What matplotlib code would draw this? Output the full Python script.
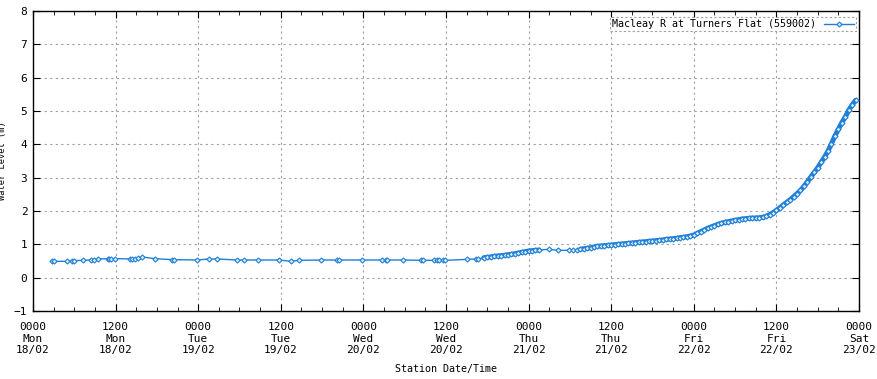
import numpy as np
import matplotlib
matplotlib.use("Agg")
import matplotlib.pyplot as plt
from matplotlib.ticker import MultipleLocator

# Horas desde lunes 18/02 00:00 y nivel del agua (m)
horas_dispersas = [2.7, 3.05, 4.9, 5.6, 5.9, 7.3, 8.4, 8.8, 9.4, 10.9, 11.1, 11.3, 11.9,
                   14.1, 14.4, 14.8, 15.2, 15.9, 17.7, 20.2, 20.5, 23.8, 25.5, 26.8,
                   29.7, 30.6, 32.7, 35.8, 37.5, 38.6, 41.8, 44.1, 44.5, 47.8, 50.7,
                   51.3, 51.5, 53.8, 56.3, 56.6, 58.3, 58.7, 59.0, 59.5, 59.9, 63.0,
                   64.3, 64.7]
nivel_disperso = [0.49, 0.49, 0.49, 0.50, 0.51, 0.52, 0.53, 0.54, 0.56, 0.57, 0.57, 0.57, 0.57,
                  0.56, 0.56, 0.56, 0.58, 0.62, 0.57, 0.54, 0.54, 0.53, 0.56, 0.56,
                  0.53, 0.53, 0.53, 0.53, 0.49, 0.52, 0.53, 0.53, 0.53, 0.53, 0.53,
                  0.53, 0.53, 0.53, 0.52, 0.52, 0.52, 0.52, 0.52, 0.52, 0.52, 0.55,
                  0.56, 0.56]

# primer tramo denso (jueves madrugada)
horas_subida1 = [65.5, 66.0, 66.5, 67.0, 67.5, 68.0, 68.5, 69.0, 69.5, 70.0, 70.5, 71.0,
                 71.5, 72.0, 72.5, 73.0, 73.5]
nivel_subida1 = [0.60, 0.61, 0.62, 0.64, 0.65, 0.66, 0.67, 0.69, 0.70, 0.72, 0.74, 0.76,
                 0.78, 0.80, 0.81, 0.82, 0.83]

horas_pausa = [74.9, 76.3, 77.9, 78.5, 79.0]
nivel_pausa = [0.85, 0.82, 0.82, 0.83, 0.84]

# segundo tramo denso (hasta el sabado)
horas_subida2 = [79.5, 80.0, 80.5, 81.0, 81.5, 82.0, 82.5, 83.0, 83.5, 84.0, 84.5, 85.0,
                 85.5, 86.0, 86.5, 87.0, 87.5, 88.0, 88.5, 89.0, 89.5, 90.0, 90.5, 91.0,
                 91.5, 92.0, 92.5, 93.0, 93.5, 94.0, 94.5, 95.0, 95.5, 96.0, 96.5, 97.0,
                 97.5, 98.0, 98.5, 99.0, 99.5, 100.0, 100.5, 101.0, 101.5, 102.0, 102.5,
                 103.0, 103.5, 104.0, 104.5, 105.0, 105.5, 106.0, 106.5, 107.0, 107.5,
                 108.0, 108.5, 109.0, 109.5, 110.0, 110.5, 111.0, 111.5, 112.0, 112.5,
                 113.0, 113.5, 114.0, 114.5, 115.0, 115.5, 116.0, 116.5, 117.0, 117.5,
                 118.0, 118.5, 119.0, 119.5]
nivel_subida2 = [0.85, 0.87, 0.88, 0.90, 0.92, 0.94, 0.95, 0.96, 0.97, 0.98, 0.99, 1.00,
                 1.01, 1.02, 1.03, 1.04, 1.05, 1.06, 1.07, 1.08, 1.09, 1.10, 1.11, 1.12,
                 1.13, 1.15, 1.16, 1.17, 1.18, 1.20, 1.21, 1.23, 1.25, 1.28, 1.33, 1.38,
                 1.43, 1.48, 1.52, 1.56, 1.60, 1.63, 1.66, 1.68, 1.70, 1.72, 1.74,
                 1.76, 1.77, 1.78, 1.79, 1.79, 1.80, 1.81, 1.84, 1.89, 1.95,
                 2.02, 2.10, 2.18, 2.26, 2.34, 2.43, 2.52, 2.62, 2.74, 2.88,
                 3.02, 3.16, 3.30, 3.46, 3.62, 3.80, 4.02, 4.25, 4.45, 4.65,
                 4.82, 5.02, 5.18, 5.32]

etiquetas_x = ["0000\nMon\n18/02", "1200\nMon\n18/02", "0000\nTue\n19/02", "1200\nTue\n19/02",
               "0000\nWed\n20/02", "1200\nWed\n20/02", "0000\nThu\n21/02", "1200\nThu\n21/02",
               "0000\nFri\n22/02", "1200\nFri\n22/02", "0000\nSat\n23/02"]

horas = horas_dispersas + horas_subida1 + horas_pausa + horas_subida2
nivel = nivel_disperso + nivel_subida1 + nivel_pausa + nivel_subida2

plt.rcParams["font.family"] = "DejaVu Sans Mono"
plt.rcParams["font.size"] = 7.2

fig = plt.figure(figsize=(8.78, 3.79), dpi=100)
ax = fig.add_axes([33 / 878, 68 / 379, 826 / 878, 300 / 379])

azul = "#1f7fd8"
# banda gruesa donde las lecturas van muy juntas
for hh, nn in [(horas_subida1, nivel_subida1), (horas_subida2, nivel_subida2)]:
    ax.plot(hh, nn, color=azul, linewidth=3.6, solid_capstyle="round", zorder=2)
ax.plot(horas, nivel, color=azul, linewidth=1.0, marker="D", markersize=2.6,
        markerfacecolor="#d8eaf9", markeredgecolor=azul, markeredgewidth=0.8,
        label="Macleay R at Turners Flat (559002)", zorder=3)

ax.set_xlim(0, 120)
ax.set_ylim(-1, 8)
ax.set_xticks(np.arange(0, 121, 12))
ax.set_xticklabels(etiquetas_x, linespacing=1.2)
ax.xaxis.set_minor_locator(MultipleLocator(3))
ax.set_yticks(np.arange(-1, 9, 1))

ax.tick_params(axis="both", which="both", direction="in", top=True, right=True,
               labelsize=8, colors="black")
ax.tick_params(axis="both", which="major", length=5, pad=4)
ax.tick_params(axis="x", which="minor", length=3)
ax.tick_params(axis="x", which="major", pad=8)

ax.grid(True, which="major", linestyle=(0, (2, 3)), color="#a0a0a0", linewidth=0.8)
for lado in ax.spines.values():
    lado.set_linewidth(1.0)

ax.set_xlabel("Station Date/Time", fontsize=7.2, labelpad=6)
ax.set_ylabel("Water Level (m)", fontsize=6.2)
ax.yaxis.set_label_coords(-0.031, 0.5)

ley = ax.legend(loc="upper right", markerfirst=False, fontsize=7.2, handlelength=3,
                borderpad=0.2, fancybox=False, framealpha=1, bbox_to_anchor=(1.0, 0.99),
                handletextpad=0.8, borderaxespad=0.3)
ley.get_frame().set_linestyle((0, (2, 2)))
ley.get_frame().set_edgecolor("#a0a0a0")
ley.get_frame().set_linewidth(0.8)

fig.savefig("out.png", dpi=100)
